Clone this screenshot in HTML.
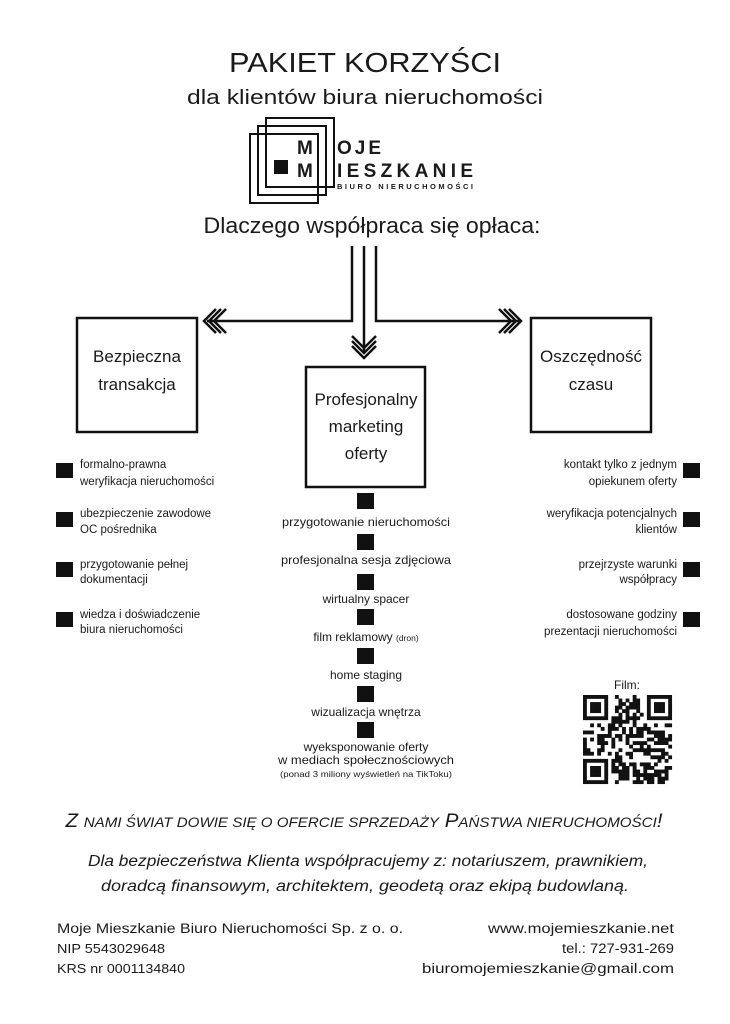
<!DOCTYPE html>
<html><head><meta charset="utf-8"><style>
html,body{margin:0;padding:0;background:#fff;}
svg{display:block;}
text{font-family:"Liberation Sans",sans-serif;fill:#1a1a1a;}
</style></head><body>
<svg id="s" width="730" height="1024" viewBox="0 0 730 1024" xmlns="http://www.w3.org/2000/svg">
<rect width="730" height="1024" fill="#fff"/>
<text x="365" y="72" font-size="28" text-anchor="middle" textLength="272" lengthAdjust="spacingAndGlyphs">PAKIET KORZYŚCI</text>
<text x="365" y="104" font-size="20" text-anchor="middle" textLength="356" lengthAdjust="spacingAndGlyphs">dla klientów biura nieruchomości</text>
<!-- logo -->
<g fill="none" stroke="#111" stroke-width="2">
<rect x="250" y="134" width="68" height="69"/>
<rect x="258" y="126" width="68" height="69"/>
<rect x="266" y="118" width="68" height="69"/>
</g>
<rect x="274" y="160" width="14" height="14" fill="#111"/>
<text x="297" y="154" font-size="19" font-weight="bold">M</text>
<text x="297" y="177" font-size="19" font-weight="bold">M</text>
<text x="337" y="154" font-size="19" font-weight="bold" letter-spacing="3">OJE</text>
<text x="337" y="177" font-size="19" font-weight="bold" textLength="136" lengthAdjust="spacing">IESZKANIE</text>
<text x="337" y="189" font-size="7.5" font-weight="bold" textLength="136" lengthAdjust="spacing">BIURO NIERUCHOMOŚCI</text>
<text x="372" y="233" font-size="22" text-anchor="middle" textLength="337" lengthAdjust="spacingAndGlyphs">Dlaczego współpraca się opłaca:</text>
<!-- connectors -->
<g fill="none" stroke="#111" stroke-width="2.5">
<polyline points="352,246 352,321 207,321"/>
<polyline points="376,246 376,321 519,321"/>
<line x1="364" y1="246" x2="364" y2="352"/>
<polyline points="216,309 204,321 216,333"/>
<polyline points="221,309 209,321 221,333"/>
<polyline points="226,309 214,321 226,333"/>
<polyline points="509,309 521,321 509,333"/>
<polyline points="504,309 516,321 504,333"/>
<polyline points="499,309 511,321 499,333"/>
<polyline points="352,336 364,348 376,336"/>
<polyline points="352,341 364,353 376,341"/>
<polyline points="352,346 364,358 376,346"/>
</g>
<!-- boxes -->
<g fill="none" stroke="#111" stroke-width="2.5">
<rect x="77" y="318" width="120" height="114"/>
<rect x="306" y="367" width="119" height="120"/>
<rect x="531" y="318" width="120" height="114"/>
</g>
<g font-size="17" text-anchor="middle">
<text x="137" y="362">Bezpieczna</text>
<text x="137" y="390">transakcja</text>
<text x="366" y="405">Profesjonalny</text>
<text x="366" y="432">marketing</text>
<text x="366" y="459">oferty</text>
<text x="591" y="362">Oszczędność</text>
<text x="591" y="390">czasu</text>
</g>
<g fill="#111">
<rect x="56" y="463" width="17" height="15"/>
<rect x="56" y="512" width="17" height="15"/>
<rect x="56" y="562" width="17" height="15"/>
<rect x="56" y="612" width="17" height="15"/>
<rect x="683" y="463" width="17" height="15"/>
<rect x="683" y="512" width="17" height="15"/>
<rect x="683" y="562" width="17" height="15"/>
<rect x="683" y="612" width="17" height="15"/>
</g>
<g font-size="11.5">
<text x="80" y="468">formalno-prawna</text>
<text x="80" y="485">weryfikacja nieruchomości</text>
<text x="80" y="517">ubezpieczenie zawodowe</text>
<text x="80" y="533">OC pośrednika</text>
<text x="80" y="568">przygotowanie pełnej</text>
<text x="80" y="583">dokumentacji</text>
<text x="80" y="618">wiedza i doświadczenie</text>
<text x="80" y="633">biura nieruchomości</text>
</g>
<g font-size="11.5" text-anchor="end">
<text x="677" y="468">kontakt tylko z jednym</text>
<text x="677" y="485">opiekunem oferty</text>
<text x="677" y="517">weryfikacja potencjalnych</text>
<text x="677" y="533">klientów</text>
<text x="677" y="568">przejrzyste  warunki</text>
<text x="677" y="583">współpracy</text>
<text x="677" y="618">dostosowane godziny</text>
<text x="677" y="635">prezentacji nieruchomości</text>
</g>
<g fill="#111">
<rect x="357" y="493" width="17" height="16"/>
<rect x="357" y="534" width="17" height="16"/>
<rect x="357" y="574" width="17" height="16"/>
<rect x="357" y="609" width="17" height="16"/>
<rect x="357" y="648" width="17" height="16"/>
<rect x="357" y="686" width="17" height="16"/>
<rect x="357" y="722" width="17" height="16"/>
</g>
<g font-size="12" text-anchor="middle">
<text x="366" y="526" textLength="168" lengthAdjust="spacingAndGlyphs">przygotowanie nieruchomości</text>
<text x="366" y="564" textLength="170" lengthAdjust="spacingAndGlyphs">profesjonalna sesja zdjęciowa</text>
<text x="366" y="603">wirtualny spacer</text>
<text x="366" y="641">film reklamowy <tspan font-size="8.5">(dron)</tspan></text>
<text x="366" y="679">home staging</text>
<text x="366" y="716">wizualizacja wnętrza</text>
<text x="366" y="751">wyeksponowanie oferty</text>
<text x="366" y="764" textLength="176" lengthAdjust="spacingAndGlyphs">w mediach społecznościowych</text>
<text x="366" y="777" font-size="8.5" textLength="172" lengthAdjust="spacingAndGlyphs">(ponad 3 miliony wyświetleń na TikToku)</text>
</g>
<text x="627" y="689" font-size="12" text-anchor="middle">Film:</text>
<g id="qr" fill="#111"></g>
<text x="364" y="827" font-size="19" font-style="italic" text-anchor="middle" textLength="597" lengthAdjust="spacingAndGlyphs">Z <tspan font-size="14">NAMI ŚWIAT DOWIE SIĘ O OFERCIE SPRZEDAŻY</tspan> P<tspan font-size="14">AŃSTWA NIERUCHOMOŚCI</tspan>!</text>
<text x="368" y="866" font-size="15.5" font-style="italic" text-anchor="middle" textLength="560" lengthAdjust="spacingAndGlyphs">Dla bezpieczeństwa Klienta współpracujemy z: notariuszem, prawnikiem,</text>
<text x="365" y="891" font-size="15.5" font-style="italic" text-anchor="middle" textLength="528" lengthAdjust="spacingAndGlyphs">doradcą finansowym, architektem, geodetą oraz ekipą budowlaną.</text>
<text x="57" y="933" font-size="13.5" textLength="346" lengthAdjust="spacingAndGlyphs">Moje Mieszkanie Biuro Nieruchomości Sp. z o. o.</text>
<text x="57" y="953" font-size="12.5" fill="#333" textLength="108" lengthAdjust="spacingAndGlyphs">NIP 5543029648</text>
<text x="57" y="973" font-size="12.5" fill="#333" textLength="128" lengthAdjust="spacingAndGlyphs">KRS nr 0001134840</text>
<text x="674" y="933" font-size="13.5" text-anchor="end" fill="#333" textLength="186" lengthAdjust="spacingAndGlyphs">www.mojemieszkanie.net</text>
<text x="674" y="953" font-size="13.5" text-anchor="end" fill="#333" textLength="112" lengthAdjust="spacingAndGlyphs">tel.: 727-931-269</text>
<text x="674" y="973" font-size="13.5" text-anchor="end" fill="#333" textLength="252" lengthAdjust="spacingAndGlyphs">biuromojemieszkanie@gmail.com</text>
</svg>
<script>
(function(){
var g=document.getElementById('qr'),N=25,x0=583,y0=695,m=3.55,seed=12345;
function r(){seed=(seed*1103515245+12345)%2147483648;return seed/2147483648;}
function fin(i,j,a,b){var di=i-a,dj=j-b;if(di<0||dj<0||di>6||dj>6)return -1;
 if(di==0||dj==0||di==6||dj==6)return 1;if(di>=2&&di<=4&&dj>=2&&dj<=4)return 1;return 0;}
var s='';
for(var i=0;i<N;i++)for(var j=0;j<N;j++){
 var v=fin(i,j,0,0);if(v<0)v=fin(i,j,0,N-7);if(v<0)v=fin(i,j,N-7,0);
 if(v<0){if((i==7&&j<8)||(j==7&&i<8)||(i==7&&j>N-9)||(j==N-8&&i<8)||(i==N-8&&j<8)||(j==7&&i>N-9))v=0;else v=r()<0.5?1:0;}
 if(v)s+='<rect x="'+(x0+j*m)+'" y="'+(y0+i*m)+'" width="'+(m+0.3)+'" height="'+(m+0.3)+'"/>';}
g.innerHTML=s;
})();
</script>
</body></html>
